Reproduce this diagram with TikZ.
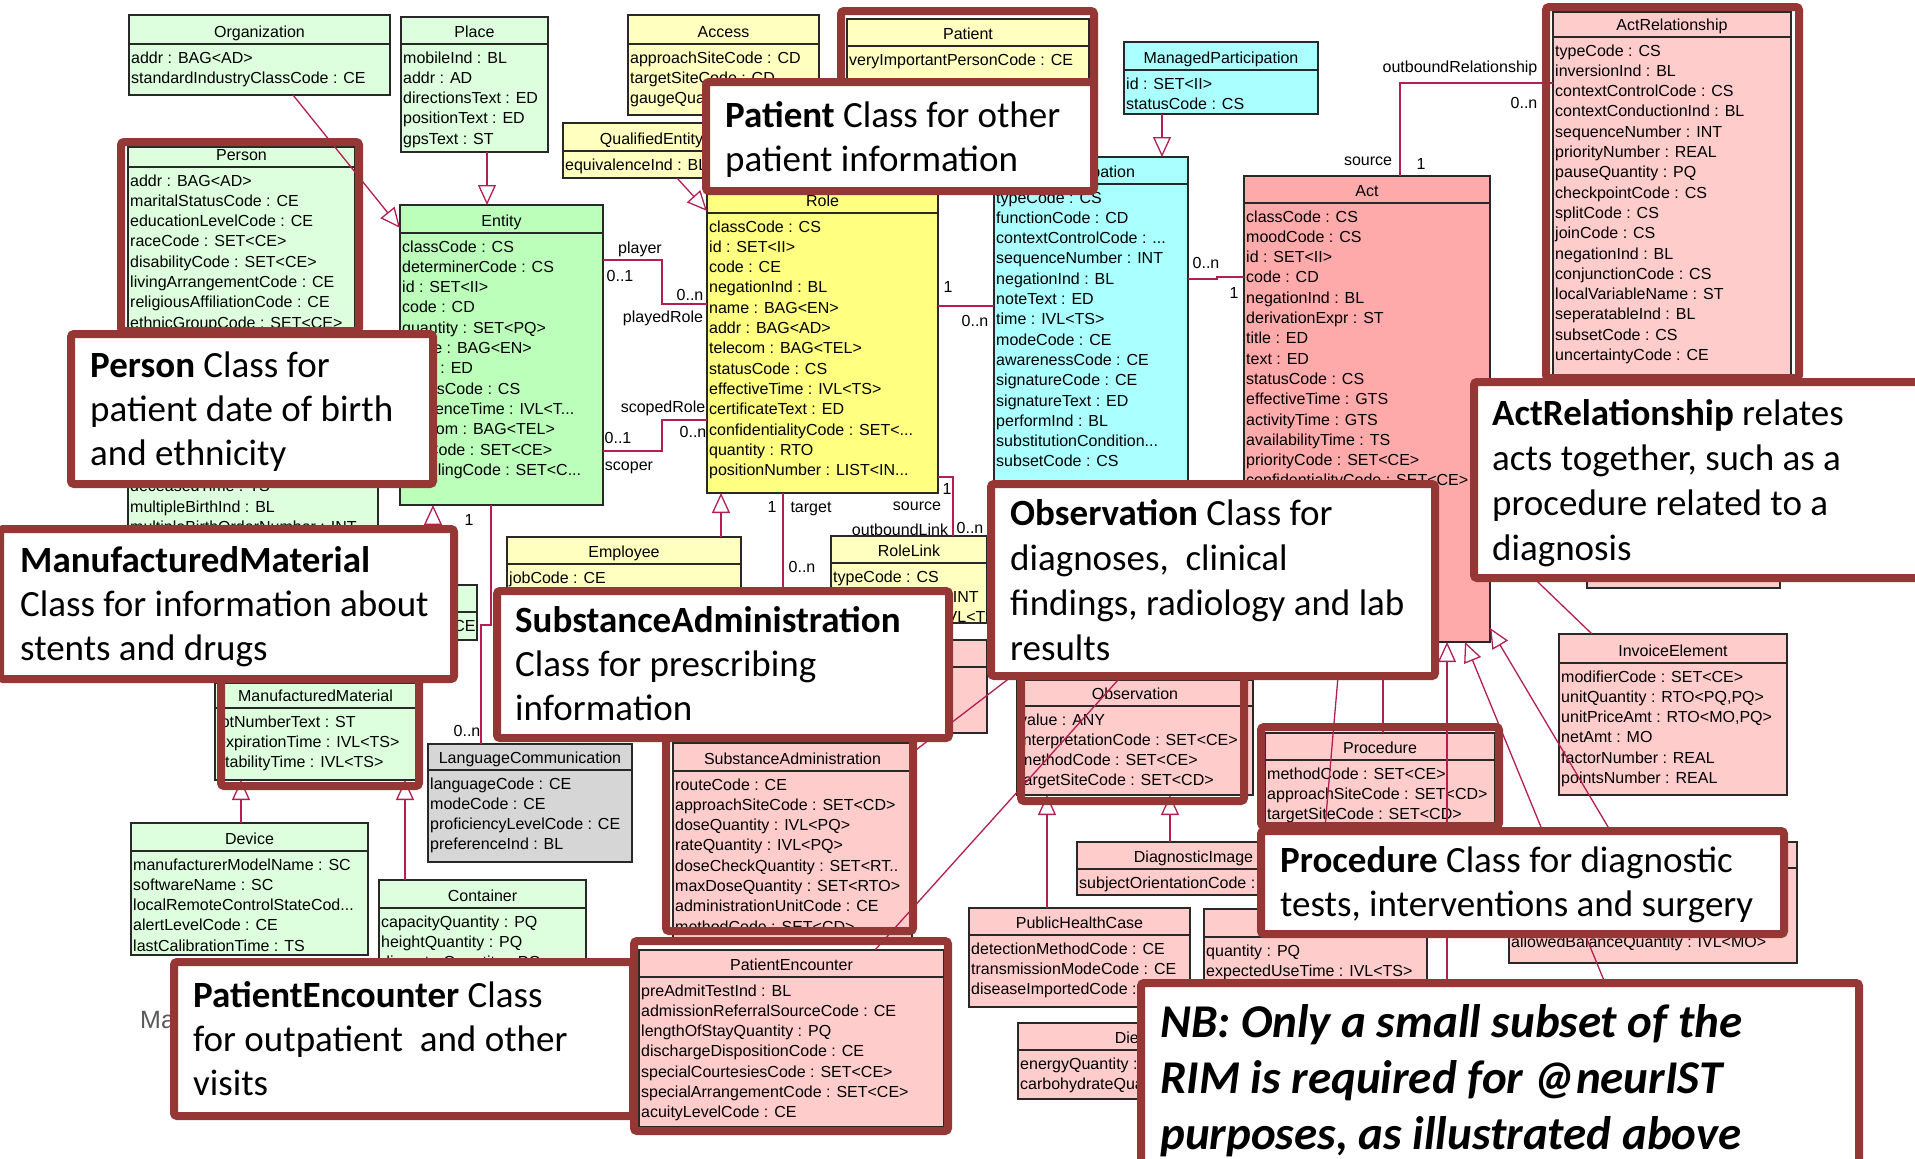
\documentclass[tikz,border=0pt]{standalone}
\usepackage{fontspec}
\setmainfont{Liberation Sans}
\newfontfamily\calloutfont{Carlito}
\usetikzlibrary{arrows.meta,fit}

\definecolor{lgreen}{RGB}{221,255,221}
\definecolor{egreen}{RGB}{187,255,187}
\definecolor{lyellow}{RGB}{255,255,192}
\definecolor{ryellow}{RGB}{255,255,128}
\definecolor{lcyan}{RGB}{170,255,255}
\definecolor{actpink}{RGB}{255,170,170}
\definecolor{lpink}{RGB}{255,204,204}
\definecolor{lgray}{RGB}{214,214,214}
\definecolor{conn}{RGB}{180,30,80}
\definecolor{framered}{RGB}{149,55,53}
\definecolor{edgegray}{RGB}{40,40,40}

\newcommand\ddd{.{}.{}.}
\newcommand\tdd{.{}.}

\tikzset{
 umlbox/.style={draw=edgegray, line width=1.3pt, inner sep=0pt, outer sep=0pt},
 umlrule/.style={draw=edgegray, line width=1.3pt},
 umltitle/.style={anchor=base, inner sep=0pt, font=\fontsize{16}{19}\selectfont},
 umlattr/.style={anchor=base west, inner sep=0pt, font=\fontsize{16}{19}\selectfont},
 lbl/.style={anchor=base, inner sep=0pt, font=\fontsize{16}{19}\selectfont},
 assoc/.style={draw=conn, line width=1.3pt},
 gen/.style={draw=conn, line width=1.3pt, -{Triangle[fill=white, width=18pt, length=20pt]}},
 hilite/.style={draw=framered, line width=8pt, rounded corners=3pt, inner sep=0pt},
 callout/.style={draw=framered, fill=white, line width=8pt, rounded corners=3pt, inner sep=0pt},
 ctext/.style={anchor=base west, inner sep=0pt, font=\calloutfont\fontsize{37}{44}\selectfont},
 nbtext/.style={anchor=base west, inner sep=0pt, font=\calloutfont\fontsize{47}{56}\selectfont\bfseries\itshape},
}

% name, x1, y1, x2, y2, header line y, fill, title, attributes
\newcommand\umlbox[9]{%
  \node[umlbox, fill=#7, fit={(#2,#3) (#4,#5)}] (#1) {};
  \begin{scope}
    \clip (#2,#3) rectangle (#4,#5);
    \draw[umlrule] (#2,#6) -- (#4,#6);
    \node[umltitle] (#1-title) at ({(#2+#4)/2},{#6-7}) {#8};
    \foreach \atx [count=\i] in {#9} {\node[umlattr] (#1-\i) at ({#2+2},{#6+19+(\i-1)*20.3}) {\atx};}
  \end{scope}
}
\newcommand\hframe[5]{\node[hilite, fit={({#2+4},{#3+4}) ({#4-4},{#5-4})}] (#1) {};}
\newcommand\cframe[5]{\node[callout, fit={({#2+4},{#3+4}) ({#4-4},{#5-4})}] (#1) {};}

\begin{document}
\begin{tikzpicture}[x=1pt,y=-1pt]
\useasboundingbox (0,0) rectangle (1915,1159);
\clip (0,0) rectangle (1915,1159);
\fill[white] (0,0) rectangle (1915,1159);

% ---------------- classes ----------------
\umlbox{org}{129}{15}{390}{95}{44}{lgreen}{Organization}{addr : BAG<AD>, standardIndustryClassCode : CE}
\umlbox{place}{401}{17}{548}{152}{44}{lgreen}{Place}{mobileInd : BL, addr : AD, directionsText : ED, positionText : ED, gpsText : ST}
\umlbox{person}{128}{147}{355}{340}{167}{lgreen}{Person}{addr : BAG<AD>, maritalStatusCode : CE, educationLevelCode : CE, raceCode : SET<CE>, disabilityCode : SET<CE>, livingArrangementCode : CE, religiousAffiliationCode : CE, ethnicGroupCode : SET<CE>}
\umlbox{living}{128}{384}{378}{560}{412}{lgreen}{}{{}, {}, {}, deceasedTime : TS, multipleBirthInd : BL, multipleBirthOrderNumber : INT}
\umlbox{entity}{400}{205}{603}{505}{233}{egreen}{Entity}{classCode : CS, determinerCode : CS, id : SET<II>, code : CD, quantity : SET<PQ>, name : BAG<EN>, desc : ED, statusCode : CS, existenceTime : IVL<T\ddd, telecom : BAG<TEL>, riskCode : SET<CE>, handlingCode : SET<C\ddd}
\umlbox{material}{366}{585}{477}{640}{612}{lgreen}{}{formCode : CE}
\umlbox{access}{628}{15}{819}{115}{44}{lyellow}{Access}{approachSiteCode : CD, targetSiteCode : CD, gaugeQuantity : PQ}
\umlbox{qe}{563}{123}{740}{178}{151}{lyellow}{QualifiedEntity}{equivalenceInd : BL}
\umlbox{patient}{847}{19}{1089}{88}{46}{lyellow}{Patient}{veryImportantPersonCode : CE}
\umlbox{role}{707}{185}{938}{493}{213}{ryellow}{Role}{classCode : CS, id : SET<II>, code : CE, negationInd : BL, name : BAG<EN>, addr : BAG<AD>, telecom : BAG<TEL>, statusCode : CS, effectiveTime : IVL<TS>, certificateText : ED, confidentialityCode : SET<\ddd, quantity : RTO, positionNumber : LIST<IN\ddd}
\umlbox{mp}{1124}{42}{1318}{114}{70}{lcyan}{ManagedParticipation}{id : SET<II>, statusCode : CS}
\umlbox{part}{994}{157}{1188}{520}{184}{lcyan}{Participation}{typeCode : CS, functionCode : CD, contextControlCode : \ddd, sequenceNumber : INT, negationInd : BL, noteText : ED, time : IVL<TS>, modeCode : CE, awarenessCode : CE, signatureCode : CE, signatureText : ED, performInd : BL, substitutionCondition\ddd, subsetCode : CS}
\umlbox{act}{1244}{176}{1490}{642}{203}{actpink}{Act}{classCode : CS, moodCode : CS, id : SET<II>, code : CD, negationInd : BL, derivationExpr : ST, title : ED, text : ED, statusCode : CS, effectiveTime : GTS, activityTime : GTS, availabilityTime : TS, priorityCode : SET<CE>, confidentialityCode : SET<CE>, repeatNumber : IVL<INT>}
\umlbox{ar}{1553}{12}{1791}{380}{37}{lpink}{ActRelationship}{typeCode : CS, inversionInd : BL, contextControlCode : CS, contextConductionInd : BL, sequenceNumber : INT, priorityNumber : REAL, pauseQuantity : PQ, checkpointCode : CS, splitCode : CS, joinCode : CS, negationInd : BL, conjunctionCode : CS, localVariableName : ST, seperatableInd : BL, subsetCode : CS, uncertaintyCode : CE}
\umlbox{hidbox}{1587}{540}{1780}{588}{560}{lpink}{}{}
\umlbox{employee}{507}{537}{741}{610}{564}{lyellow}{Employee}{jobCode : CE}
\umlbox{rolelink}{831}{536}{987}{623}{563}{lyellow}{RoleLink}{typeCode : CS, priorityNumber : INT, effectiveTime : IVL<TS>}
\umlbox{midbox}{900}{640}{987}{733}{667}{lpink}{}{}
\umlbox{sa}{673}{743}{912}{940}{771}{lpink}{SubstanceAdministration}{routeCode : CE, approachSiteCode : SET<CD>, doseQuantity : IVL<PQ>, rateQuantity : IVL<PQ>, doseCheckQuantity : SET<RT\tdd, maxDoseQuantity : SET<RTO>, administrationUnitCode : CE, methodCode : SET<CD>}
\umlbox{pe}{639}{950}{944}{1127}{977}{lpink}{PatientEncounter}{preAdmitTestInd : BL, admissionReferralSourceCode : CE, lengthOfStayQuantity : PQ, dischargeDispositionCode : CE, specialCourtesiesCode : SET<CE>, specialArrangementCode : SET<CE>, acuityLevelCode : CE}
\umlbox{lc}{428}{744}{632}{862}{770}{lgray}{LanguageCommunication}{languageCode : CE, modeCode : CE, proficiencyLevelCode : CE, preferenceInd : BL}
\umlbox{mm}{215}{683}{416}{780}{708}{lgreen}{ManufacturedMaterial}{lotNumberText : ST, expirationTime : IVL<TS>, stabilityTime : IVL<TS>}
\umlbox{device}{131}{823}{368}{955}{851}{lgreen}{Device}{manufacturerModelName : SC, softwareName : SC, localRemoteControlStateCod\ddd, alertLevelCode : CE, lastCalibrationTime : TS}
\umlbox{container}{379}{880}{586}{985}{908}{lgreen}{Container}{capacityQuantity : PQ, heightQuantity : PQ, diameterQuantity : PQ}
\umlbox{obs}{1017}{680}{1253}{795}{706}{lpink}{Observation}{value : ANY, interpretationCode : SET<CE>, methodCode : SET<CE>, targetSiteCode : SET<CD>}
\umlbox{proc}{1265}{733}{1495}{825}{760}{lpink}{Procedure}{methodCode : SET<CE>, approachSiteCode : SET<CD>, targetSiteCode : SET<CD>}
\umlbox{di}{1077}{842}{1310}{895}{869}{lpink}{DiagnosticImage}{subjectOrientationCode : CE}
\umlbox{phc}{969}{908}{1190}{1007}{935}{lpink}{PublicHealthCase}{detectionMethodCode : CE, transmissionModeCode : CE, diseaseImportedCode : CE}
\umlbox{diet}{1018}{1023}{1240}{1099}{1050}{lpink}{Diet}{energyQuantity : PQ, carbohydrateQuantity : PQ}
\umlbox{supply}{1204}{909}{1427}{1000}{937}{lpink}{}{quantity : PQ, expectedUseTime : IVL<TS>}
\umlbox{account}{1509}{842}{1797}{963}{868}{lpink}{}{{}, {}, {}, allowedBalanceQuantity : IVL<MO>}
\umlbox{invoice}{1559}{634}{1787}{795}{663}{lpink}{InvoiceElement}{modifierCode : SET<CE>, {unitQuantity : RTO<PQ,PQ>}, {unitPriceAmt : RTO<MO,PQ>}, netAmt : MO, factorNumber : REAL, pointsNumber : REAL}

\node[anchor=base west, inner sep=0pt, text=black!65, font=\fontsize{25}{30}\selectfont] (matext) at (140,1028) {Ma};

% ---------------- connectors ----------------
\coordinate (genend1) at (1447,1000);
\coordinate (genend2) at (1612,1000);

\draw[gen] (org.south -| 293,0) -- (entity.west |- 0,228);
\draw[gen] (place.south -| 487,0) -- (entity.north -| 487,0);
\draw[gen] (qe.south -| 677,0) -- (role.west |- 0,211);
\draw[gen] (mp.south -| 1162,0) -- (part.north -| 1162,0);
\draw[gen] (employee.north -| 721,0) -- (role.south -| 721,0);
\draw[gen] (material.north -| 433,0) -- (entity.south -| 433,0);
\draw[gen] (device.north -| 241,0) -- (mm.south -| 241,0);
\draw[gen] (container.north -| 405,0) -- (mm.south -| 405,0);
\draw[gen] (phc.north -| 1047,0) -- (obs.south -| 1047,0);
\draw[gen] (di.north -| 1170,0) -- (obs.south -| 1170,0);
\draw[gen] (proc.north -| 1383,0) -- (act.south -| 1383,0);
\draw[gen] (supply.north -| 1318,0) -- (act.south -| 1341,0);
\draw[gen] (genend1) -- (act.south -| 1447,0);
\draw[gen] (genend2) -- (act.south -| 1465,0);
\draw[gen] (account.north -| 1617,0) -- (act.east |- 0,628);
\draw[gen] (sa.east |- 0,753) -- (act.west |- 0,498);
\draw[gen] (pe.north -| 875,0) -- (act.west |- 0,540);
\draw[assoc] (act.east |- 0,536) -- (invoice.north -| 1592,0);

\draw[assoc] (entity.east |- 0,260) -- (662,260) -- (662,304) -- (role.west |- 0,304);
\draw[assoc] (entity.east |- 0,451) -- (662,451) -- (662,420) -- (role.west |- 0,420);
\draw[assoc] (role.east |- 0,306) -- (part.west |- 0,306);
\draw[assoc] (part.east |- 0,279) -- (1217,279) -- (1217,277) -- (act.west |- 0,277);
\draw[assoc] (act.north -| 1400,0) -- (1400,83) -- (ar.west |- 0,83);
\draw[assoc] (role.south -| 783,0) -- (783,610) -- (rolelink.west |- 0,610);
\draw[assoc] (role.east |- 0,477) -- (953,477) -- (rolelink.north -| 953,0);
\draw[assoc] (entity.south -| 491,0) -- (491,625) -- (481,625) -- (lc.north -| 481,0);

% association labels
\node[lbl] (l1) at (640,253) {player};
\node[lbl] (l2) at (620,281) {0..1};
\node[lbl] (l3) at (690,300) {0..n};
\node[lbl] (l4) at (663,322) {playedRole};
\node[lbl] (l5) at (663,412) {scopedRole};
\node[lbl] (l6) at (618,443) {0..1};
\node[lbl] (l7) at (693,437) {0..n};
\node[lbl] (l8) at (629,470) {scoper};
\node[lbl] (l9) at (948,292) {1};
\node[lbl] (l10) at (975,326) {0..n};
\node[lbl] (l11) at (1206,268) {0..n};
\node[lbl] (l12) at (1234,298) {1};
\node[lbl] (l13) at (1368,165) {source};
\node[lbl] (l14) at (1421,169) {1};
\node[lbl] (l15) at (1460,72) {outboundRelationship};
\node[lbl] (l16) at (1524,108) {0..n};
\node[lbl] (l17) at (772,512) {1};
\node[lbl] (l18) at (811,512) {target};
\node[lbl] (l19) at (802,572) {0..n};
\node[lbl] (l20) at (947,494) {1};
\node[lbl] (l21) at (917,510) {source};
\node[lbl] (l22) at (900,535) {outboundLink};
\node[lbl] (l23) at (970,533) {0..n};
\node[lbl] (l24) at (469,525) {1};
\node[lbl] (l25) at (467,736) {0..n};

% ---------------- highlight frames ----------------
\hframe{fperson}{117}{138}{363}{335}
\hframe{fpatient}{837}{7}{1098}{90}
\hframe{far}{1542}{3}{1803}{382}
\hframe{fmm}{217}{675}{423}{790}
\hframe{fsa}{662}{730}{917}{935}
\hframe{fpe}{630}{937}{952}{1135}
\hframe{fobs}{1017}{672}{1248}{805}
\hframe{fproc}{1257}{723}{1503}{830}

% ---------------- callouts ----------------
\cframe{cperson}{67}{330}{437}{488}
\node[ctext] (tp1) at (90,377) {\textbf{Person} Class for};
\node[ctext] (tp2) at (90,421) {patient date of birth};
\node[ctext] (tp3) at (90,465) {and ethnicity};

\cframe{cpatient}{702}{78}{1098}{195}
\node[ctext] (tq1) at (725,127) {\textbf{Patient} Class for other};
\node[ctext] (tq2) at (725,171) {patient information};

\cframe{cmm}{-4}{525}{458}{683}
\node[ctext] (tm1) at (20,572) {\textbf{ManufacturedMaterial}};
\node[ctext] (tm2) at (20,616) {Class for information about};
\node[ctext] (tm3) at (20,660) {stents and drugs};

\cframe{csa}{493}{587}{953}{742}
\node[ctext] (ts1) at (515,632) {\textbf{SubstanceAdministration}};
\node[ctext] (ts2) at (515,676) {Class for prescribing};
\node[ctext] (ts3) at (515,720) {information};

\cframe{cobs}{987}{480}{1439}{680}
\node[ctext] (to1) at (1010,525) {\textbf{Observation} Class for};
\node[ctext] (to2) at (1010,570) {diagnoses,\ \ clinical};
\node[ctext] (to3) at (1010,615) {findings, radiology and lab};
\node[ctext] (to4) at (1010,660) {results};

\cframe{car}{1470}{378}{1930}{582}
\node[ctext] (ta1) at (1492,425) {\textbf{ActRelationship} relates};
\node[ctext] (ta2) at (1492,470) {acts together, such as a};
\node[ctext] (ta3) at (1492,515) {procedure related to a};
\node[ctext] (ta4) at (1492,560) {diagnosis};

\cframe{cproc}{1257}{827}{1788}{938}
\node[ctext] (tr1) at (1280,872) {\textbf{Procedure} Class for diagnostic};
\node[ctext] (tr2) at (1280,916) {tests, interventions and surgery};

\cframe{cpe}{170}{958}{637}{1120}
\node[ctext] (te1) at (193,1007) {\textbf{PatientEncounter} Class};
\node[ctext] (te2) at (193,1051) {for outpatient\ \ and other};
\node[ctext] (te3) at (193,1095) {visits};

\cframe{cnb}{1137}{979}{1863}{1190}
\node[nbtext] (tn1) at (1160,1037) {NB: Only a small subset of the};
\node[nbtext] (tn2) at (1160,1093) {RIM is required for @neurIST};
\node[nbtext] (tn3) at (1160,1149) {purposes, as illustrated above};
\end{tikzpicture}
\end{document}
